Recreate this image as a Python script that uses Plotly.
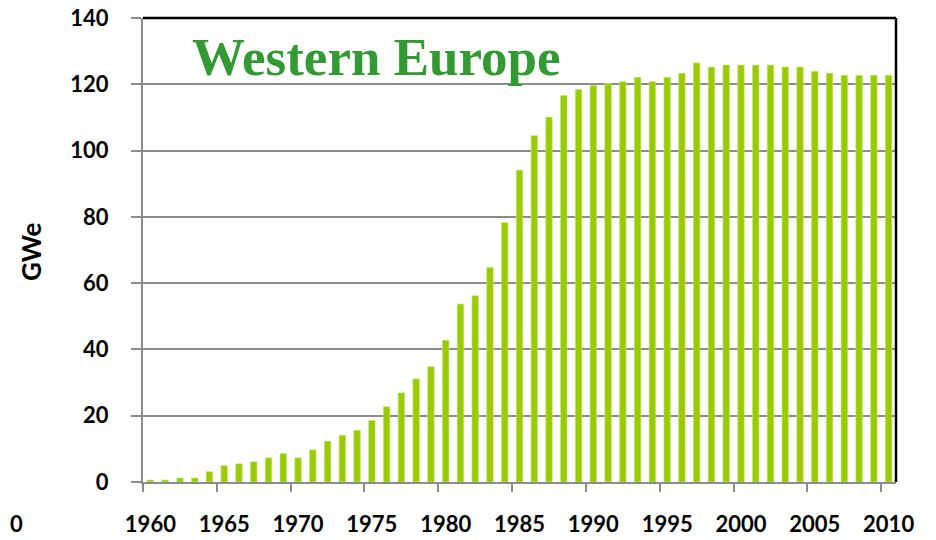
import plotly.graph_objects as go

years = list(range(1960, 2011))
capacity_gwe = [
    0.6, 0.6, 1.2, 1.2, 3.1, 4.9, 5.5, 6.1, 7.3, 8.6,
    7.3, 9.7, 12.3, 14.1, 15.6, 18.6, 22.7, 26.9, 31.1, 34.8,
    42.8, 53.7, 56.2, 64.7, 78.3, 94.1, 104.5, 110.1, 116.6, 118.4,
    119.6, 120.2, 120.8, 122.1, 120.8, 122.1, 123.3, 126.4, 125.2, 125.8,
    125.8, 125.8, 125.8, 125.2, 125.2, 123.9, 123.3, 122.7, 122.7, 122.7,
    122.7,
]
tick_years = [1960, 1965, 1970, 1975, 1980, 1985, 1990, 1995, 2000, 2005, 2010]
tick_text = [str(y) for y in tick_years]
divider_ticks = [y - 0.5 for y in tick_years]
y_ticks = [0, 20, 40, 60, 80, 100, 120, 140]

title_text = "Western Europe"
y_title = "GWe"

# page body has an 8px default margin, so the figure starts at (8, 8)
OFF = 8
W, H = 936 - OFF, 540 - OFF
L, R, T, B = 143 - OFF, 40, 18 - OFF, 58
PW, PH = W - L - R, H - T - B


def px(sx):
    return (sx - 143) / PW


def py(sy):
    return (482 - sy) / PH


fig = go.Figure()
fig.add_trace(go.Bar(
    x=years,
    y=capacity_gwe,
    marker=dict(color="#99cc00", line=dict(color="#c6e27a", width=0.6)),
    showlegend=False,
))

tick_font = dict(family="Lato, Arial, sans-serif", size=22, color="black", weight="bold")

fig.update_layout(
    width=W,
    height=H,
    autosize=False,
    margin=dict(l=L, r=R, t=T, b=B, autoexpand=False),
    paper_bgcolor="white",
    plot_bgcolor="white",
    bargap=0.56,
    xaxis=dict(
        range=[1959.5, 2010.5],
        automargin=False,
        tickmode="array",
        tickvals=tick_years,
        ticktext=tick_text,
        ticks="",
        tickfont=tick_font,
        ticklabeloverflow="allow",
        showgrid=False,
        showline=True,
        linecolor="#8c8c8c",
        linewidth=2,
        zeroline=False,
        ticklabelstandoff=22,
        minor=dict(
            tickmode="array",
            tickvals=divider_ticks,
            ticks="outside",
            ticklen=8,
            tickcolor="#8c8c8c",
            tickwidth=2,
            showgrid=False,
        ),
    ),
    yaxis=dict(
        range=[0, 140],
        automargin=False,
        tickmode="array",
        tickvals=y_ticks,
        tickfont=tick_font,
        ticklabeloverflow="allow",
        ticks="outside",
        ticklen=10,
        tickcolor="#8c8c8c",
        tickwidth=2,
        showgrid=True,
        gridcolor="#8c8c8c",
        gridwidth=2,
        showline=True,
        linecolor="#8c8c8c",
        linewidth=2,
        zeroline=False,
        ticklabelstandoff=18,
    ),
    shapes=[
        dict(type="line", xref="paper", yref="paper", x0=0, x1=1, y0=1, y1=1,
             layer="above", line=dict(color="black", width=2.5)),
        dict(type="line", xref="paper", yref="paper", x0=1, x1=1, y0=0, y1=1,
             layer="above", line=dict(color="black", width=2.5)),
    ],
    annotations=[
        dict(text="<b>" + title_text + "</b>", xref="paper", yref="paper",
             x=px(376), y=py(57), xanchor="center", yanchor="middle",
             showarrow=False,
             font=dict(family="Liberation Serif, Times New Roman, serif", size=53, color="#339933")),
        dict(text="<b>" + y_title + "</b>", xref="paper", yref="paper",
             x=px(31), y=py(252), xanchor="center", yanchor="middle",
             textangle=-90, showarrow=False,
             font=dict(family="Lato, Arial, sans-serif", size=26, color="black")),
        dict(text="<b>0</b>", xref="paper", yref="paper",
             x=px(OFF), y=py(523), xanchor="left", yanchor="middle",
             showarrow=False, font=tick_font),
    ],
)

fig.write_html("out.html")
